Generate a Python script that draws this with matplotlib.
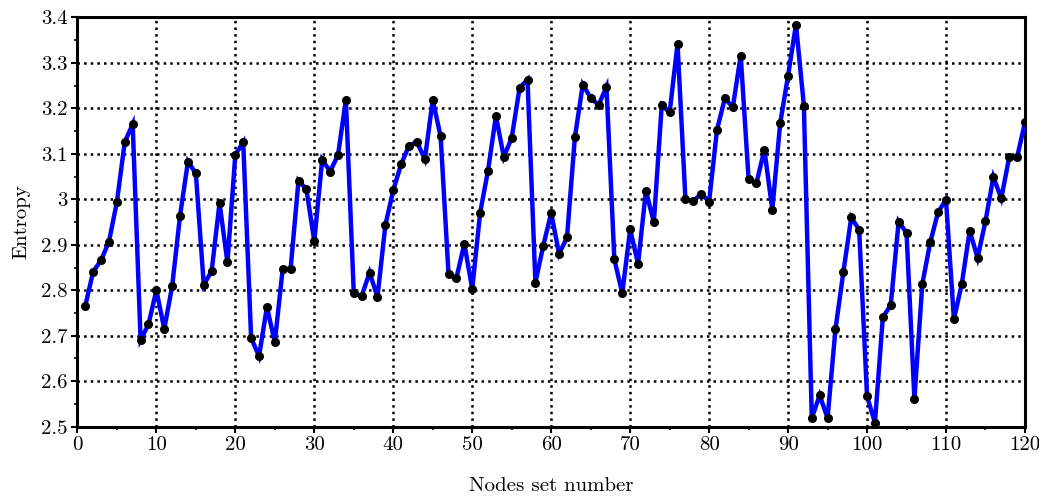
import matplotlib
matplotlib.use("Agg")
import matplotlib.pyplot as plt
from matplotlib.ticker import MultipleLocator, FuncFormatter

# entropy per nodes set
node_sets = list(range(1, 121))
entropy = [
    2.766, 2.841, 2.866, 2.907, 2.994, 3.126, 3.165, 2.691, 2.725, 2.800,
    2.715, 2.809, 2.964, 3.083, 3.057, 2.812, 2.842, 2.992, 2.861, 3.098,
    3.125, 2.695, 2.655, 2.763, 2.686, 2.847, 2.847, 3.041, 3.022, 2.908,
    3.087, 3.061, 3.097, 3.218, 2.794, 2.787, 2.839, 2.785, 2.943, 3.020,
    3.077, 3.118, 3.126, 3.088, 3.218, 3.138, 2.835, 2.827, 2.902, 2.803,
    2.970, 3.063, 3.183, 3.093, 3.135, 3.245, 3.263, 2.817, 2.898, 2.970,
    2.880, 2.916, 3.136, 3.252, 3.223, 3.207, 3.247, 2.868, 2.793, 2.934,
    2.858, 3.019, 2.949, 3.207, 3.191, 3.341, 3.000, 2.996, 3.012, 2.995,
    3.153, 3.222, 3.202, 3.316, 3.044, 3.036, 3.109, 2.977, 3.167, 3.272,
    3.384, 3.206, 2.519, 2.569, 2.519, 2.714, 2.840, 2.960, 2.933, 2.567,
    2.509, 2.741, 2.767, 2.951, 2.926, 2.561, 2.814, 2.905, 2.972, 2.999,
    2.736, 2.814, 2.931, 2.871, 2.952, 3.049, 3.002, 3.092, 3.092, 3.169,
]

plt.rcParams["font.family"] = ["cmr10", "DejaVu Serif"]
plt.rcParams["mathtext.fontset"] = "cm"
plt.rcParams["axes.formatter.use_mathtext"] = True

fig = plt.figure(figsize=(10.39, 4.97), dpi=100)
ax = fig.add_axes([0.0745, 0.1414, 0.912, 0.8238])

ax.plot(node_sets, entropy, color="#0000ff", lw=3.2, solid_joinstyle="miter",
        zorder=3)
ax.plot(node_sets, entropy, "o", color="black", ms=5.5, zorder=4)

ax.set_xlim(0, 120)
ax.set_ylim(2.5, 3.4)
ax.xaxis.set_major_locator(MultipleLocator(10))
ax.xaxis.set_minor_locator(MultipleLocator(5))
ax.yaxis.set_major_locator(MultipleLocator(0.1))
ax.yaxis.set_minor_locator(MultipleLocator(0.05))
ax.yaxis.set_major_formatter(FuncFormatter(lambda v, p: "%g" % round(v, 2)))
ax.xaxis.set_major_formatter(FuncFormatter(lambda v, p: "%d" % v))

ax.grid(True, which="major", color="black", linestyle=":", linewidth=1.8)
for s in ax.spines.values():
    s.set_linewidth(2.2)
ax.tick_params(which="major", direction="out", length=4, width=1.5,
               labelsize=15, pad=3)
ax.tick_params(which="minor", direction="out", length=2.5, width=1.2)

ax.set_xlabel("Nodes set number", fontsize=15, labelpad=16)
ax.set_ylabel("Entropy", fontsize=15, labelpad=8)

fig.savefig("out.png", dpi=100)
plt.close(fig)
